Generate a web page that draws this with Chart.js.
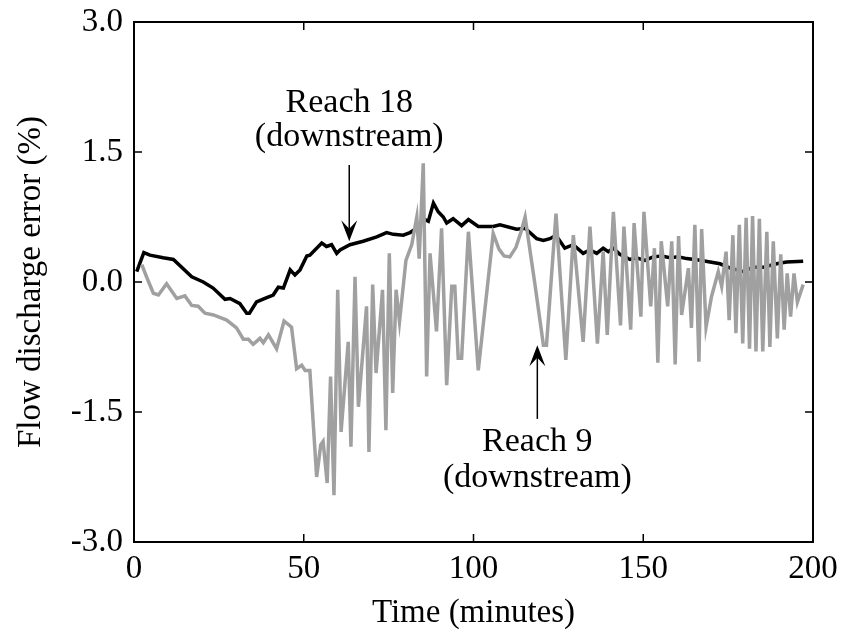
<!DOCTYPE html>
<html>
<head>
<meta charset="utf-8">
<script src="https://cdn.jsdelivr.net/npm/chart.js@4"></script>
<style>
  html, body { margin: 0; padding: 0; background: #fff; }
  #wrap { width: 848px; height: 636px; }
</style>
</head>
<body>
<div id="wrap"><canvas id="errChart" width="848" height="636"></canvas></div>
<script>
// Reach 18 (downstream) - black line
const reach18Time = [
    0.8, 2.9, 4.7, 8.6, 11.6, 17, 20.4, 23.3, 26.8, 28.3,
    31.2, 33.2, 34, 36.1, 39.1, 41, 42.5, 44, 46, 47.4,
    48.9, 50.9, 51.8, 55.3, 56.7, 58.2, 59.7, 60.7, 63.6, 67.5,
    71.5, 74.4, 76.4, 79.3, 81.3, 83.3, 85.2, 86.7, 88.2, 89.6,
    91.1, 92.1, 94, 96.5, 98.5, 101.4, 105.8, 107.8, 112.7, 115.2,
    118.6, 120.6, 122.5, 124.3, 126.9, 129.4, 132.3, 134.3, 136.3, 138.2,
    139.7, 141.2, 143.1, 146.1, 148, 150.5, 152.9, 155.4, 157.9, 160.3,
    162.8, 166.7, 169.7, 172.6, 175.6, 179.5, 182.4, 185.4, 189.3, 192.2,
    197.1
];
const reach18Err = [
    0.12, 0.34, 0.31, 0.28, 0.26, 0.06, 0.0, -0.07, -0.2, -0.19,
    -0.25, -0.36, -0.36, -0.23, -0.18, -0.15, -0.06, -0.07, 0.14, 0.08,
    0.14, 0.30, 0.31, 0.45, 0.41, 0.43, 0.33, 0.37, 0.43, 0.47,
    0.52, 0.57, 0.55, 0.54, 0.57, 0.62, 0.73, 0.70, 0.91, 0.81,
    0.75, 0.68, 0.73, 0.65, 0.72, 0.64, 0.64, 0.66, 0.61, 0.62,
    0.50, 0.48, 0.50, 0.54, 0.39, 0.43, 0.33, 0.37, 0.33, 0.39,
    0.35, 0.39, 0.32, 0.26, 0.28, 0.25, 0.29, 0.30, 0.28, 0.29,
    0.27, 0.25, 0.23, 0.21, 0.16, 0.12, 0.17, 0.17, 0.21, 0.23,
    0.24
];

// Reach 9 (downstream) - gray line
const reach9Time = [
    2.3, 3.7, 5.7, 7.2, 9.6, 12.6, 15, 17, 18.9, 20.9,
    23.4, 27.3, 30.2, 32.2, 33.7, 35.1, 37.1, 38.1, 39.6, 42,
    44.2, 46.4, 47.9, 49.4, 50.4, 51.8, 53.8, 55, 55.7, 56.9,
    57.9, 58.9, 60, 61, 63.1, 63.9, 65.1, 66.1, 68.5, 69.2,
    70.3, 71.3, 73.2, 74.2, 75.2, 76.2, 77.2, 78.2, 80.1, 81.8,
    83.3, 84, 85.2, 86.2, 87.2, 89.1, 90.6, 92.1, 93.6, 94.5,
    95.5, 96.5, 98.5, 101.4, 105.8, 107.5, 109, 110.7, 112.5, 114,
    115.2, 118, 120.6, 121.5, 124.3, 127.2, 129.4, 132.3, 134.3, 136.5,
    138.2, 139.4, 141.2, 143.3, 144.3, 146.3, 147.3, 149.3, 150.2, 152.2,
    153.3, 154.3, 155.3, 157.2, 158.4, 159.4, 160.4, 161.3, 163.3, 164.2,
    165.2, 166.4, 167.2, 168.5, 170.1, 172.1, 173.1, 174.4, 175.3, 176.4,
    177.3, 178.3, 179.3, 180.3, 181.3, 182.2, 183.2, 184.2, 185.2, 186.4,
    187.3, 188.3, 189.5, 190.5, 191.5, 192.4, 193.4, 194.4, 195.4, 197.1
];
const reach9Err = [
    0.2, 0.06, -0.13, -0.15, -0.02, -0.19, -0.16, -0.27, -0.28, -0.36,
    -0.38, -0.44, -0.53, -0.66, -0.66, -0.72, -0.65, -0.70, -0.61, -0.77,
    -0.45, -0.52, -1.0, -0.96, -1.02, -1.02, -2.25, -1.88, -1.84, -2.32,
    -1.09, -2.46, -0.09, -1.73, -0.69, -1.90, 0.06, -1.44, -0.28, -1.96,
    -0.03, -1.05, -0.09, -1.71, 0.33, -1.28, -0.09, -0.46, 0.25, 0.43,
    0.75, 0.27, 1.37, -1.09, 0.33, -0.57, 0.62, -1.19, -0.05, -0.05,
    -0.88, -0.88, 0.58, -1.02, 0.56, 0.38, 0.30, 0.29, 0.40, 0.58,
    0.75, 0.0, -0.73, -0.73, 0.79, -0.90, 0.54, -0.69, 0.64, -0.71,
    0.35, -0.61, 0.81, -0.50, 0.64, -0.55, 0.68, -0.40, 0.81, -0.28,
    0.39, -0.93, 0.47, -0.28, 0.47, -0.95, 0.53, -0.38, 0.16, -0.53,
    0.66, -0.92, 0.61, -0.52, -0.17, 0.12, -0.05, 0.35, -0.44, 0.54,
    -0.59, 0.66, -0.71, 0.74, -0.77, 0.76, -0.80, 0.73, -0.80, 0.58,
    -0.75, 0.47, -0.65, 0.32, -0.55, 0.1, -0.40, 0.1, -0.23, -0.03
];

const xTicks = [0, 50, 100, 150, 200];
const yTicks = [-3.0, -1.5, 0.0, 1.5, 3.0];

// labels with arrows, in data coordinates
const notes = [
    { lines: ["Reach 18", "(downstream)"], x: 63.4, textY: [1.96, 1.57], tail: 1.35, tip: 0.47 },
    { lines: ["Reach 9", "(downstream)"], x: 118.8, textY: [-1.95, -2.36], tail: -1.58, tip: -0.73 }
];

const serif = "'Liberation Serif', 'Times New Roman', serif";

function toPoints(xs, ys) {
    return xs.map((x, i) => ({ x: x, y: ys[i] }));
}

// box frame, inward ticks on all four sides, and annotations
const framePlugin = {
    id: 'frame',
    afterDatasetsDraw(chart) {
        const { ctx, chartArea: a, scales: { x, y } } = chart;
        ctx.save();
        ctx.strokeStyle = '#000';
        ctx.lineWidth = 2;
        ctx.strokeRect(a.left, a.top, a.right - a.left, a.bottom - a.top);

        const len = 8;
        ctx.beginPath();
        xTicks.slice(1, -1).forEach(v => {
            const px = x.getPixelForValue(v);
            ctx.moveTo(px, a.bottom); ctx.lineTo(px, a.bottom - len);
            ctx.moveTo(px, a.top); ctx.lineTo(px, a.top + len);
        });
        yTicks.slice(1, -1).forEach(v => {
            const py = y.getPixelForValue(v);
            ctx.moveTo(a.left, py); ctx.lineTo(a.left + len, py);
            ctx.moveTo(a.right, py); ctx.lineTo(a.right - len, py);
        });
        ctx.lineWidth = 1.5;
        ctx.stroke();

        // annotations
        ctx.fillStyle = '#000';
        ctx.font = "34px " + serif;
        ctx.textAlign = 'center';
        ctx.textBaseline = 'alphabetic';
        notes.forEach(n => {
            const px = x.getPixelForValue(n.x);
            n.lines.forEach((t, i) => ctx.fillText(t, px, y.getPixelForValue(n.textY[i])));

            const yTail = y.getPixelForValue(n.tail);
            const yTip = y.getPixelForValue(n.tip);
            const dir = yTip > yTail ? 1 : -1;
            const headLen = 21, headW = 8;
            ctx.lineWidth = 1.5;
            ctx.beginPath();
            ctx.moveTo(px, yTail);
            ctx.lineTo(px, yTip - dir * headLen * 0.6);
            ctx.stroke();
            ctx.beginPath();
            ctx.moveTo(px, yTip);
            ctx.lineTo(px - headW, yTip - dir * headLen);
            ctx.lineTo(px, yTip - dir * headLen * 0.6);
            ctx.lineTo(px + headW, yTip - dir * headLen);
            ctx.closePath();
            ctx.fill();
        });
        ctx.restore();
    }
};

new Chart(document.getElementById('errChart').getContext('2d'), {
    type: 'scatter',
    data: {
        datasets: [
            {
                label: 'Reach 9 (downstream)',
                data: toPoints(reach9Time, reach9Err),
                showLine: true,
                borderColor: '#a0a0a0',
                borderWidth: 3.5,
                pointRadius: 0,
                tension: 0
            },
            {
                label: 'Reach 18 (downstream)',
                data: toPoints(reach18Time, reach18Err),
                showLine: true,
                borderColor: '#000',
                borderWidth: 3.5,
                pointRadius: 0,
                tension: 0
            }
        ]
    },
    options: {
        responsive: false,
        animation: false,
        layout: { padding: { top: 22, right: 35, left: 0, bottom: 0 } },
        scales: {
            x: {
                type: 'linear',
                min: 0,
                max: 200,
                afterBuildTicks(scale) { scale.ticks = xTicks.map(v => ({ value: v })); },
                afterFit(scale) { scale.height = 94; },
                grid: { display: false, drawTicks: false },
                border: { display: false },
                ticks: { color: '#000', padding: 8, font: { family: serif, size: 33 }, maxRotation: 0 },
                title: { display: true, text: 'Time (minutes)', color: '#000', padding: { top: 0, bottom: 3 }, font: { family: serif, size: 33 } }
            },
            y: {
                type: 'linear',
                min: -3,
                max: 3,
                afterBuildTicks(scale) { scale.ticks = yTicks.map(v => ({ value: v })); },
                afterFit(scale) {
                    scale.width = 134;
                    scale.paddingTop = 0;
                    scale.paddingBottom = 0;
                },
                grid: { display: false, drawTicks: false },
                border: { display: false },
                ticks: { color: '#000', padding: 11, font: { family: serif, size: 33 }, callback: v => v.toFixed(1) },
                title: { display: true, text: 'Flow discharge error (%)', color: '#000', padding: { top: 12, bottom: 0 }, font: { family: serif, size: 33 } }
            }
        },
        plugins: {
            legend: { display: false },
            tooltip: { enabled: false }
        }
    },
    plugins: [framePlugin]
});
</script>
</body>
</html>
